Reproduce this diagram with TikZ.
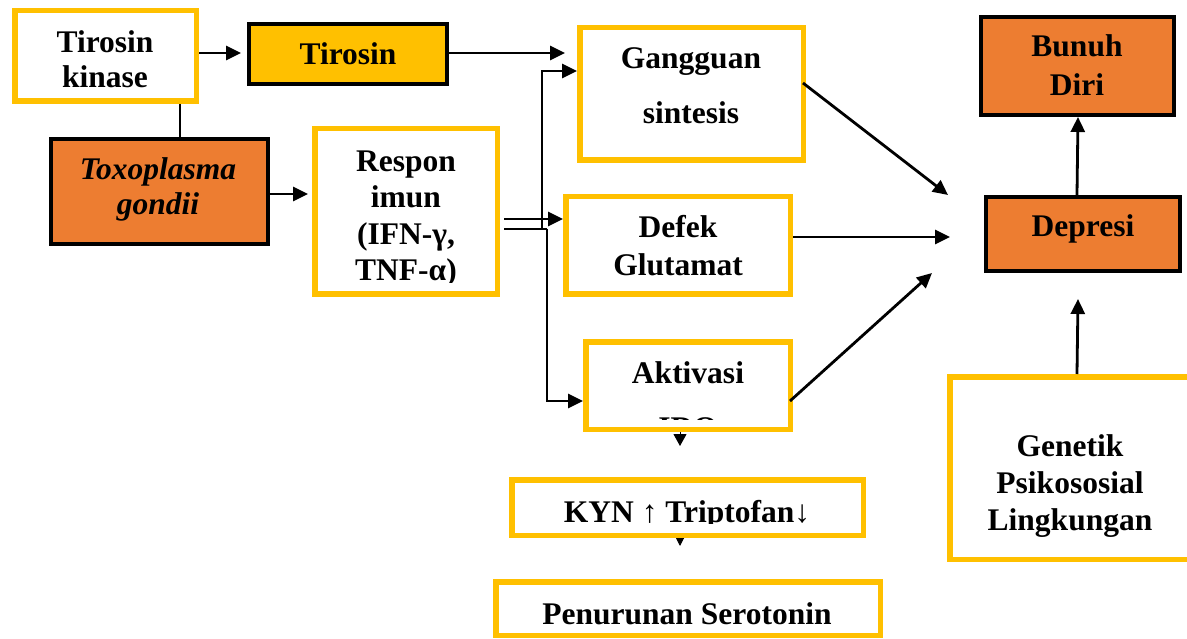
\documentclass[tikz,border=0pt]{standalone}
\usepackage{fontspec}
\setmainfont{Liberation Serif}
\usetikzlibrary{arrows.meta}
\definecolor{ybc}{HTML}{FFC000}
\definecolor{obc}{HTML}{ED7D31}
\begin{document}
\begin{tikzpicture}[x=1pt,y=-1pt,
  ybox/.style={draw=ybc, line width=5.5pt, fill=white, inner sep=0pt, rectangle},
  obox/.style={draw=black, line width=4pt, fill=obc, inner sep=0pt, rectangle},
  tbox/.style={draw=black, line width=4pt, fill=ybc, inner sep=0pt, rectangle},
  lbl/.style={anchor=base, inner sep=0pt, font=\bfseries\fontsize{31.5}{36}\selectfont},
  conn/.style={line width=2.8pt, draw=black},
  arr/.style={conn, -{Triangle[length=15pt,width=14pt]}},
]
\clip (0,0) rectangle (1187,639);
\fill[white] (0,0) rectangle (1187,639);
% boxes
\node[ybox, minimum width=181.5pt, minimum height=90.5pt] (tk) at (105.5,56) {};
\node[tbox, minimum width=198pt, minimum height=60pt] (tir) at (348,54) {};
\node[obox, minimum width=217pt, minimum height=105pt] (tox) at (159.5,191.5) {};
\node[ybox, minimum width=182.5pt, minimum height=165.5pt] (resp) at (406,211.5) {};
\node[ybox, minimum width=223.5pt, minimum height=132.5pt] (gang) at (691.5,94) {};
\node[ybox, minimum width=224.5pt, minimum height=97.5pt] (defek) at (678,245.5) {};
\node[ybox, minimum width=204.5pt, minimum height=87.5pt] (akt) at (688,385.5) {};
\node[ybox, minimum width=351.5pt, minimum height=55.5pt] (kyn) at (687.5,507.5) {};
\node[ybox, minimum width=384.5pt, minimum height=53.5pt] (pen) at (688,608.5) {};
\node[obox, minimum width=193pt, minimum height=98pt] (bun) at (1077.5,66) {};
\node[obox, minimum width=194pt, minimum height=74pt] (dep) at (1083,234) {};
\node[ybox, minimum width=245.25pt, minimum height=182.5pt] (gen) at (1072.4,468) {};
% texts
\node[lbl] (tk1) at (105,53) {Tirosin};
\node[lbl] (tk2) at (105,88) {kinase};
\node[lbl] (tir1) at (348,65) {Tirosin};
\node[lbl, font=\bfseries\itshape\fontsize{31.5}{36}\selectfont] (tox1) at (158,180) {Toxoplasma};
\node[lbl, font=\bfseries\itshape\fontsize{31.5}{36}\selectfont] (tox2) at (158,215) {gondii};
\node[lbl] (resp1) at (406,172) {Respon};
\node[lbl] (resp2) at (406,208) {imun};
\node[lbl] (resp3) at (406,245) {(IFN-γ,};
\begin{scope}
\clip (318,130) rectangle (494,283);
\node[lbl] (resp4) at (406,281) {TNF-α)};
\end{scope}
\node[lbl] (gang1) at (691,69) {Gangguan};
\node[lbl] (gang2) at (691,124) {sintesis};
\node[lbl] (def1) at (678,238) {Defek};
\node[lbl] (def2) at (678,276) {Glutamat};
\node[lbl] (akt1) at (688,383) {Aktivasi};
\begin{scope}
\clip (588,345) rectangle (788,419);
\node[lbl] (akt2) at (688,438) {IDO};
\end{scope}
\begin{scope}
\clip (512,480) rectangle (863,523);
\node[lbl] (kyn1) at (687,522) {KYN ↑ Triptofan↓};
\end{scope}
\node[lbl] (pen1) at (687,624) {Penurunan Serotonin};
\node[lbl] (bun1) at (1077,57) {Bunuh};
\node[lbl] (bun2) at (1077,96) {Diri};
\node[lbl] (dep1) at (1083,237) {Depresi};
\node[lbl] (gen1) at (1070,456) {Genetik};
\node[lbl] (gen2) at (1070,493) {Psikososial};
\node[lbl] (gen3) at (1070,530) {Lingkungan};
% connectors
\draw[arr, shorten >=6pt] ([yshift=3pt]tk.east) -- ([yshift=3pt]tk.east -| tir.west);
\draw[conn] ([xshift=74.5pt]tk.south) -- ([xshift=74.5pt]tk.south |- tox.north);
\draw[arr, shorten >=12pt] ([yshift=1pt]tir.east) -- ([yshift=1pt]tir.east -| gang.west);
\draw[arr, shorten >=4pt] ([yshift=-2.5pt]tox.east) -- ([yshift=-2.5pt]tox.east -| resp.west);
\coordinate (ja) at (542,229);
\coordinate (jb) at (547,229);
\draw[arr, shorten <=4pt] ([yshift=-7.5pt]resp.east) -- ([yshift=-7.5pt]resp.east -| defek.west);
\draw[conn, shorten <=4pt] ([yshift=-17.5pt]resp.east) -- (jb);
\draw[arr] (jb) |- ([yshift=-15.5pt]akt.west);
\draw[arr] (ja) |- ([yshift=23pt]gang.west);
\coordinate (t1) at (948,195);
\coordinate (t2) at (950,237);
\coordinate (t3) at (932,273);
\coordinate (t4) at (1078,299);
\draw[arr] ([xshift=-3pt,yshift=11pt]gang.east) -- (t1);
\draw[arr] ([yshift=8.5pt]defek.east) -- (t2);
\draw[arr] ([xshift=-3pt,yshift=-15.5pt]akt.east) -- (t3);
\draw[arr] ([xshift=-6pt]dep.north) -- ([xshift=0.5pt]bun.south);
\draw[arr] ([xshift=4.6pt]gen.north) -- (t4);
\draw[line width=1pt, -{Triangle[length=12pt,width=13pt]}, shorten >=31pt] ([xshift=-8pt]akt.south) -- ([xshift=-8pt]akt.south |- kyn.north);
\draw[line width=1pt, -{Triangle[length=8pt,width=8pt]}, shorten >=33pt] ([xshift=-7.5pt]kyn.south) -- ([xshift=-7.5pt]kyn.south |- pen.north);
\end{tikzpicture}
\end{document}
